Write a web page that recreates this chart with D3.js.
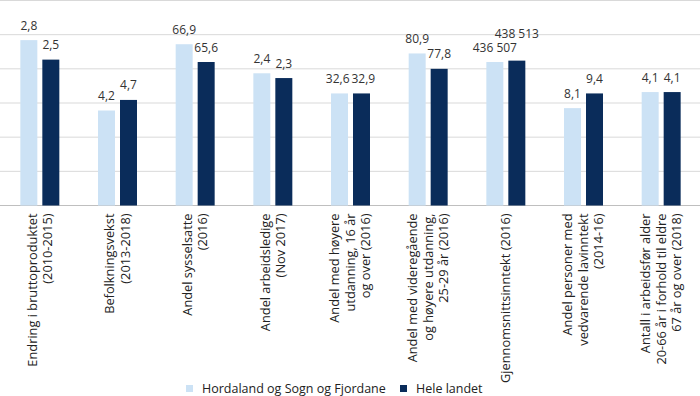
<!DOCTYPE html>
<html><head><meta charset="utf-8">
<script src="https://cdn.jsdelivr.net/npm/d3@7"></script>
<style>
html,body{margin:0;padding:0;background:#fff;}
svg{display:block;font-family:"Open Sans",sans-serif;}
</style></head>
<body><svg id="c" width="700" height="396"></svg>
<script>
const categories = [
  ["Endring i bruttoproduktet","(2010-2015)"],
  ["Befolkningsvekst","(2013-2018)"],
  ["Andel sysselsatte","(2016)"],
  ["Andel arbeidsledige","(Nov 2017)"],
  ["Andel med høyere","utdanning, 16 år","og over (2016)"],
  ["Andel med videregående","og høyere utdanning,","25-29 år (2016)"],
  ["Gjennomsnittsinntekt (2016)"],
  ["Andel personer med","vedvarende lavinntekt","(2014-16)"],
  ["Antall i arbeidsfør alder","20-66 år i forhold til eldre","67 år og over (2018)"]
];
const seriesNames = ["Hordaland og Sogn og Fjordane","Hele landet"];
// plotted (indexed) heights
const regionValues = [4.84, 2.78, 4.72, 3.87, 3.28, 4.45, 4.20, 2.85, 3.32];
const countryValues = [4.27, 3.09, 4.20, 3.73, 3.28, 4.00, 4.24, 3.28, 3.32];
// printed value labels
const regionLabels = ["2,8","4,2","66,9","2,4","32,6","80,9","436 507","8,1","4,1"];
const countryLabels = ["2,5","4,7","65,6","2,3","32,9","77,8","438 513","9,4","4,1"];
const yTicks = [0,1,2,3,4,5,6];
const colors = ["#cce2f5","#0a2c5a"];

const svg = d3.select("#c");
const W = 700;
const x0 = d3.scaleBand().domain(d3.range(categories.length)).range([1, 700]).paddingInner(0.498).paddingOuter(0.249);
const x1 = d3.scaleBand().domain([0,1]).range([0, x0.bandwidth()]).paddingInner(0.2273);
const y = d3.scaleLinear().domain([0, 6]).range([205.5, 0.5]);

// gridlines
svg.append("g").selectAll("line").data(yTicks).join("line")
  .attr("x1", 0).attr("x2", W)
  .attr("y1", d => y(d)).attr("y2", d => y(d))
  .attr("stroke", d => d === 0 ? "#bfbfbf" : "#d9d9d9").attr("stroke-width", 1);

const data = categories.map((c, i) => ({
  i, vals: [regionValues[i], countryValues[i]], labs: [regionLabels[i], countryLabels[i]]
}));

const groups = svg.append("g").selectAll("g").data(data).join("g")
  .attr("transform", d => `translate(${x0(d.i)},0)`);

groups.selectAll("rect").data(d => d.vals.map((v, s) => ({v, s}))).join("rect")
  .attr("x", d => x1(d.s)).attr("width", x1.bandwidth())
  .attr("y", d => y(d.v)).attr("height", d => y(0) - y(d.v))
  .attr("fill", d => colors[d.s]);

// value labels with simple collision avoidance
groups.each(function(d) {
  const g = d3.select(this);
  const texts = d.vals.map((v, s) => g.append("text")
    .attr("x", x1(s) + x1.bandwidth()/2)
    .attr("y", y(v) - 10.5)
    .attr("text-anchor", "middle")
    .attr("font-size", 12).attr("fill", "#333")
    .text(d.labs[s]));
  const b = texts.map(t => ({x: +t.attr("x"), y: +t.attr("y"), w: t.node().getComputedTextLength()}));
  const overlap = (b[0].w + b[1].w)/2 + 2 - Math.abs(b[1].x - b[0].x);
  if (Math.abs(b[0].y - b[1].y) < 14 && overlap > 0) {
    if (overlap > 8) {
      const hi = b[0].y <= b[1].y ? 0 : 1;
      const other = 1 - hi;
      texts[hi].attr("y", b[other].y - 14);
    } else {
      texts[0].attr("x", b[0].x - overlap/2);
      texts[1].attr("x", b[1].x + overlap/2);
    }
  }
});

// category labels (rotated)
const lh = 15.5;
svg.append("g").selectAll("text").data(categories).join("text")
  .attr("transform", (d, i) => `translate(${x0(i) + x0.bandwidth()/2},213.5) rotate(-90)`)
  .attr("text-anchor", "end").attr("font-size", 12.8).attr("fill", "#222")
  .each(function(lines) {
    const t = d3.select(this);
    const n = lines.length;
    lines.forEach((ln, k) => {
      t.append("tspan").attr("x", 0).attr("y", (k - (n-1)/2) * lh).attr("dy", "0.35em").text(ln);
    });
  });

// legend
const legend = svg.append("g");
const lx = [186, 400];
seriesNames.forEach((name, s) => {
  legend.append("rect").attr("x", lx[s]).attr("y", 385).attr("width", 7).attr("height", 7).attr("fill", colors[s]);
  legend.append("text").attr("x", lx[s] + 16).attr("y", 393).attr("font-size", 12.5).attr("fill", "#222").text(name);
});
</script></body></html>
